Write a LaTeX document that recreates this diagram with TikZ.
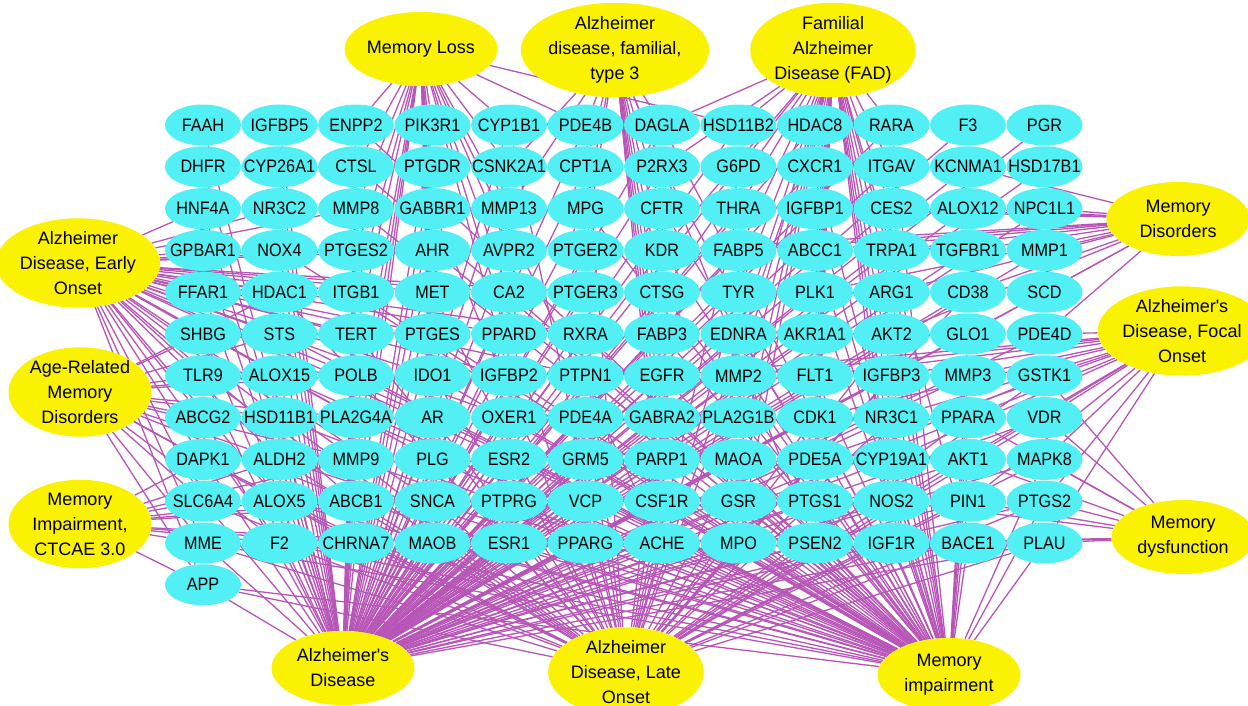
\documentclass[tikz,border=0pt]{standalone}
\usepackage{fontspec}
\setmainfont{Liberation Sans}
\newfontfamily\genefont{Liberation Sans}[FakeStretch=0.9]
\usetikzlibrary{shapes.geometric}
\definecolor{genecyan}{RGB}{82,240,245}
\definecolor{dzyellow}{RGB}{250,242,0}
\definecolor{linkpurple}{RGB}{184,86,184}
\pgfdeclarelayer{bg}
\pgfsetlayers{bg,main}
% target genes, row by row
\def\generows{%
{FAAH,IGFBP5,ENPP2,PIK3R1,CYP1B1,PDE4B,DAGLA,HSD11B2,HDAC8,RARA,F3,PGR},%
{DHFR,CYP26A1,CTSL,PTGDR,CSNK2A1,CPT1A,P2RX3,G6PD,CXCR1,ITGAV,KCNMA1,HSD17B1},%
{HNF4A,NR3C2,MMP8,GABBR1,MMP13,MPG,CFTR,THRA,IGFBP1,CES2,ALOX12,NPC1L1},%
{GPBAR1,NOX4,PTGES2,AHR,AVPR2,PTGER2,KDR,FABP5,ABCC1,TRPA1,TGFBR1,MMP1},%
{FFAR1,HDAC1,ITGB1,MET,CA2,PTGER3,CTSG,TYR,PLK1,ARG1,CD38,SCD},%
{SHBG,STS,TERT,PTGES,PPARD,RXRA,FABP3,EDNRA,AKR1A1,AKT2,GLO1,PDE4D},%
{TLR9,ALOX15,POLB,IDO1,IGFBP2,PTPN1,EGFR,MMP2,FLT1,IGFBP3,MMP3,GSTK1},%
{ABCG2,HSD11B1,PLA2G4A,AR,OXER1,PDE4A,GABRA2,PLA2G1B,CDK1,NR3C1,PPARA,VDR},%
{DAPK1,ALDH2,MMP9,PLG,ESR2,GRM5,PARP1,MAOA,PDE5A,CYP19A1,AKT1,MAPK8},%
{SLC6A4,ALOX5,ABCB1,SNCA,PTPRG,VCP,CSF1R,GSR,PTGS1,NOS2,PIN1,PTGS2},%
{MME,F2,CHRNA7,MAOB,ESR1,PPARG,ACHE,MPO,PSEN2,IGF1R,BACE1,PLAU},%
{APP}}

\begin{document}
\begin{tikzpicture}
    [x=1pt, y=-1pt,
    gene/.style={ellipse, fill=genecyan, minimum width=76pt, minimum height=41pt, inner sep=0pt},
    genelabel/.style={inner sep=0pt, font=\genefont\fontsize{18}{20}\selectfont},
    disease/.style={ellipse, fill=dzyellow, minimum width=143pt, minimum height=74pt, inner sep=0pt, align=center, font=\fontsize{18}{25}\selectfont},
    link/.style={draw=linkpurple, line width=1.3pt}]
    \useasboundingbox (0,0) rectangle (1248,706);
    % genes
    \foreach \row [count=\j from 0] in \generows
        \foreach \g [count=\i from 0] in \row
            \node[gene] (\g) at (203+76.5*\i, 125+41.8*\j) {};
    \foreach \row in \generows
        \foreach \g in \row
            \node[genelabel] at (\g) {\g};
    % diseases
    \node[disease] (ML)   at (421, 49)  {Memory Loss};
    \node[disease] (ADF3) at (615, 50)  {Alzheimer\\disease, familial,\\type 3};
    \node[disease] (FAD)  at (833, 50)  {Familial\\Alzheimer\\Disease (FAD)};
    \node[disease] (ADEO) at (78, 263)  {Alzheimer\\Disease, Early\\Onset};
    \node[disease] (ARMD) at (80, 392)  {Age-Related\\Memory\\Disorders};
    \node[disease] (MICT) at (80, 524)  {Memory\\Impairment,\\CTCAE 3.0};
    \node[disease] (MD)   at (1178, 219) {Memory\\Disorders};
    \node[disease] (ADFO) at (1182, 331) {Alzheimer\textquotesingle s\\Disease, Focal\\Onset};
    \node[disease] (MDF)  at (1183, 537) {Memory\\dysfunction};
    \node[disease] (AD)   at (343, 668) {Alzheimer\textquotesingle s\\Disease};
    \node[disease] (ADLO) at (626, 672) {Alzheimer\\Disease, Late\\Onset};
    \node[disease] (MI)   at (949, 675) {Memory\\impairment};
    % links
    \begin{pgfonlayer}{bg}
    \foreach \row in \generows
        \foreach \g in \row
            \draw[link] (AD) -- (\g);
    \foreach \g in {APP,MME,F2,CHRNA7,MAOB,ESR1,PPARG,ACHE,MPO,PSEN2,IGF1R,BACE1,PLAU,SLC6A4,ALOX5,ABCB1,SNCA,VCP,CSF1R,GSR,PTGS1,NOS2,PIN1,PTGS2,DAPK1,ALDH2,MMP9,PLG,ESR2,PARP1,MAOA,PDE5A,AKT1,MAPK8,HSD11B1,AR,PDE4A,CDK1,NR3C1,PPARA,VDR,TLR9,IDO1,EGFR,MMP2,IGFBP3,GSTK1,TERT,PPARD,RXRA,AKT2,HDAC1,MET,TYR,CD38,GABBR1,THRA,HDAC8,PDE4B,CYP1B1}
        \draw[link] (ADLO) -- (\g);
    \foreach \g in {APP,MME,F2,CHRNA7,MAOB,ESR1,PPARG,ACHE,MPO,PSEN2,IGF1R,BACE1,PLAU,ALOX5,ABCB1,SNCA,PTPRG,VCP,CSF1R,GSR,PTGS1,NOS2,PIN1,PTGS2,ALDH2,MMP9,PLG,ESR2,GRM5,PARP1,MAOA,PDE5A,CYP19A1,AKT1,MAPK8,HSD11B1,PLA2G4A,AR,OXER1,PDE4A,GABRA2,PLA2G1B,CDK1,NR3C1,PPARA,ALOX15,POLB,IDO1,IGFBP2,PTPN1,EGFR,MMP2,FLT1,IGFBP3,MMP3,STS,PTGES,RXRA,FABP3,EDNRA,AKT2,GLO1,ITGB1,CA2,CTSG,PLK1,ARG1,NOX4,AHR,KDR,ABCC1,TRPA1,MMP8,MPG,CFTR,IGFBP1,CTSL,P2RX3,CXCR1,ENPP2,DAGLA,RARA}
        \draw[link] (MI) -- (\g);
    \foreach \g in {HSD11B2,PIK3R1,ENPP2,CYP1B1,PDE4B,CTSL,PTGDR,CSNK2A1,GABBR1,MMP13,MMP8,AHR,AVPR2,PTGES2,MET,CA2,ITGB1,PTGES,PPARD,TERT,IDO1,IGFBP2,PLA2G4A,AR,MMP9,PLG,SNCA,ABCB1,MAOB,CHRNA7,ACHE}
        \draw[link] (ML) -- (\g);
    \foreach \g in {PDE4B,DAGLA,CPT1A,MPG,P2RX3,CFTR,KDR,PTGER2,CTSG,FABP3,EGFR,GABRA2,PARP1,CSF1R,ACHE,PSEN2,MMP13,CSNK2A1}
        \draw[link] (ADF3) -- (\g);
    \foreach \g in {HSD11B2,HDAC8,RARA,G6PD,CXCR1,ITGAV,THRA,IGFBP1,CES2,FABP5,ABCC1,TRPA1,TYR,PLK1,ARG1,EDNRA,AKR1A1,AKT2,MMP2,FLT1,IGFBP3,PLA2G1B,CDK1,NR3C1,MAOA,PDE5A,CYP19A1,GSR,PTGS1,NOS2,MPO,PSEN2,IGF1R,BACE1,KDR,DAGLA,P2RX3,CTSG}
        \draw[link] (FAD) -- (\g);
    \foreach \g in {FFAR1,GPBAR1,HNF4A,NR3C2,NOX4,HDAC1,SHBG,STS,TLR9,ALOX15,ABCG2,HSD11B1,ITGB1,TERT,PTGES2,MMP8,MET,POLB,PLA2G4A,DAPK1,ALDH2,MMP9,IDO1,AHR,CA2,PPARD,PTGES,PLG,AR,SLC6A4,APP,MME,F2,ABCB1,ALOX5,RXRA,PTGER3,PTPN1,IGFBP2,OXER1,ESR2,SNCA}
        \draw[link] (ADEO) -- (\g);
    \foreach \g in {ABCG2,TLR9,SHBG,HDAC1,STS,ALOX15,HSD11B1,DAPK1,SLC6A4,ALDH2,ALOX5,MME,F2,APP,MMP9,POLB,PLA2G4A,ABCB1,CHRNA7}
        \draw[link] (ARMD) -- (\g);
    \foreach \g in {SLC6A4,MME,ALOX5,F2,APP,ABCB1,CHRNA7,MMP9,ALDH2,DAPK1,SNCA,MAOB}
        \draw[link] (MICT) -- (\g);
    \foreach \g in {MMP1,SCD,TGFBR1,NPC1L1,CD38,TRPA1,ABCC1,ARG1,FABP5,PLK1,GLO1,KDR,AKT2,PDE4D,CES2,ALOX12,KCNMA1,IGFBP1}
        \draw[link] (MD) -- (\g);
    \foreach \g in {GSTK1,VDR,MAPK8,PDE4D,MMP3,PPARA,AKT1,IGFBP3,NR3C1,CYP19A1,FLT1,MMP2,PTGS2,PIN1,NOS2,PLAU,EGFR,CDK1,PDE5A}
        \draw[link] (ADFO) -- (\g);
    \foreach \g in {PLAU,PTGS2,MAPK8,PIN1,BACE1,VDR,AKT1,NOS2,IGF1R,PPARA,GSTK1}
        \draw[link] (MDF) -- (\g);
    \end{pgfonlayer}
\end{tikzpicture}
\end{document}
